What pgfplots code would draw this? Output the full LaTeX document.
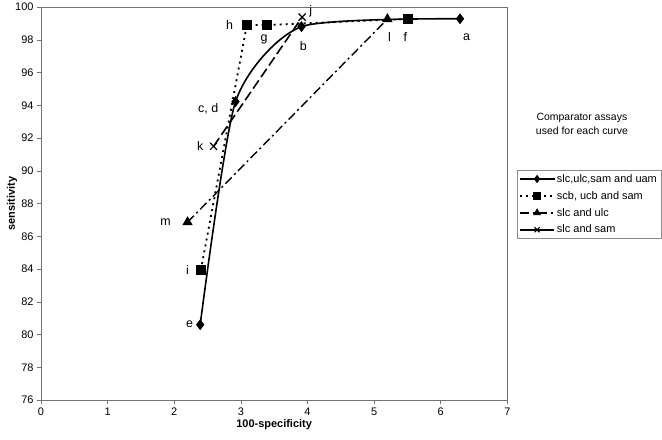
\documentclass[border=0pt]{standalone}
\usepackage{pgfplots}
\pgfplotsset{compat=1.18}
\usepackage{fontspec}
\setmainfont{Liberation Sans}

\begin{document}
\begin{tikzpicture}
\path[use as bounding box] (-41bp,-40bp) rectangle (621bp,400bp);
\begin{axis}[
    scale only axis,
    width=466.3bp, height=393bp,
    xmin=0, xmax=7, ymin=76, ymax=100,
    xtick={0,1,...,7},
    ytick={76,78,...,100},
    xtick pos=left, ytick pos=left,
    tick align=outside,
    major tick length=4bp,
    axis line style={draw=black!55},
    every tick/.style={draw=black!55},
    tick label style={font=\fontsize{11}{13}\selectfont},
    /pgf/number format/assume math mode=true,
    xlabel={\bfseries 100-specificity},
    ylabel={\bfseries sensitivity},
    every axis x label/.style={at={(axis description cs:0.5,-0.0636)},anchor=center,font=\fontsize{11}{13}\selectfont},
    every axis y label/.style={at={(axis description cs:-0.0622,0.5)},rotate=90,anchor=center,font=\fontsize{11}{13}\selectfont},
    legend style={at={(axis description cs:1.0208,0.585)}, anchor=north west,
        draw=black!45, font=\fontsize{11}{13}\selectfont,
        inner xsep=2bp, inner ysep=2bp, row sep=3.5bp},
    legend cell align=left,
    legend image code/.code={\draw[mark repeat=2,mark phase=2,mark options={solid,scale=0.7}] plot coordinates {(0bp,0bp)(17bp,0bp)(34bp,0bp)};},
    clip=false,
]
% slc,ulc,sam and uam
\addplot[black, line width=1.6bp, smooth, tension=0.38, mark=diamond*, mark size=4.2bp,
    mark options={solid}] coordinates {
    (2.39,80.6)(2.92,94.22)(3.91,98.8)(6.29,99.28)
};
\addlegendentry{slc,ulc,sam and uam}
% scb, ucb and sam
\addplot[black, line width=1.8bp, dash pattern=on 2bp off 4bp, mark=square*, mark size=4.3bp,
    mark options={solid}] coordinates {
    (2.40,83.94)(3.09,98.9)(3.39,98.9)(5.51,99.27)
};
\addlegendentry{scb, ucb and sam}
% slc and ulc
\addplot[black, line width=1.4bp, dash pattern=on 9bp off 3.5bp on 2bp off 3.5bp, mark=triangle*, mark size=4.6bp,
    mark options={solid}] coordinates {
    (2.2,86.86)(5.2,99.26)
};
\addlegendentry{slc and ulc}
% slc and sam
\addplot[black, line width=1.6bp, dash pattern=on 10bp off 4bp, mark=x, mark size=5bp,
    mark options={solid, line width=1.2bp},
    legend image code/.code={\draw[solid,mark repeat=2,mark phase=2,mark options={solid,line width=1.2bp,scale=0.7}] plot coordinates {(0bp,0bp)(17bp,0bp)(34bp,0bp)};}] coordinates {
    (2.59,91.49)(3.92,99.38)
};
\addlegendentry{slc and sam}

\begin{scope}[every node/.style={font=\fontsize{12.5}{14}\selectfont, anchor=center, inner sep=0pt}]
\node at (axis cs:6.39,98.15) {a};
\node at (axis cs:3.94,97.6) {b};
\node at (axis cs:2.51,93.8) {c, d};
\node at (axis cs:2.23,80.6) {e};
\node at (axis cs:5.47,98.15) {f};
\node at (axis cs:3.35,98.0) {g};
\node at (axis cs:2.83,98.9) {h};
\node at (axis cs:2.20,83.95) {i};
\node at (axis cs:4.05,99.75) {j};
\node at (axis cs:2.39,91.5) {k};
\node at (axis cs:5.23,98.15) {l};
\node at (axis cs:1.87,86.85) {m};
\end{scope}
\node[align=center, font=\fontsize{10.5}{14}\selectfont, anchor=center]
    at (axis description cs:1.160,0.702) {Comparator assays\\used for each curve};
\end{axis}
\end{tikzpicture}
\end{document}
